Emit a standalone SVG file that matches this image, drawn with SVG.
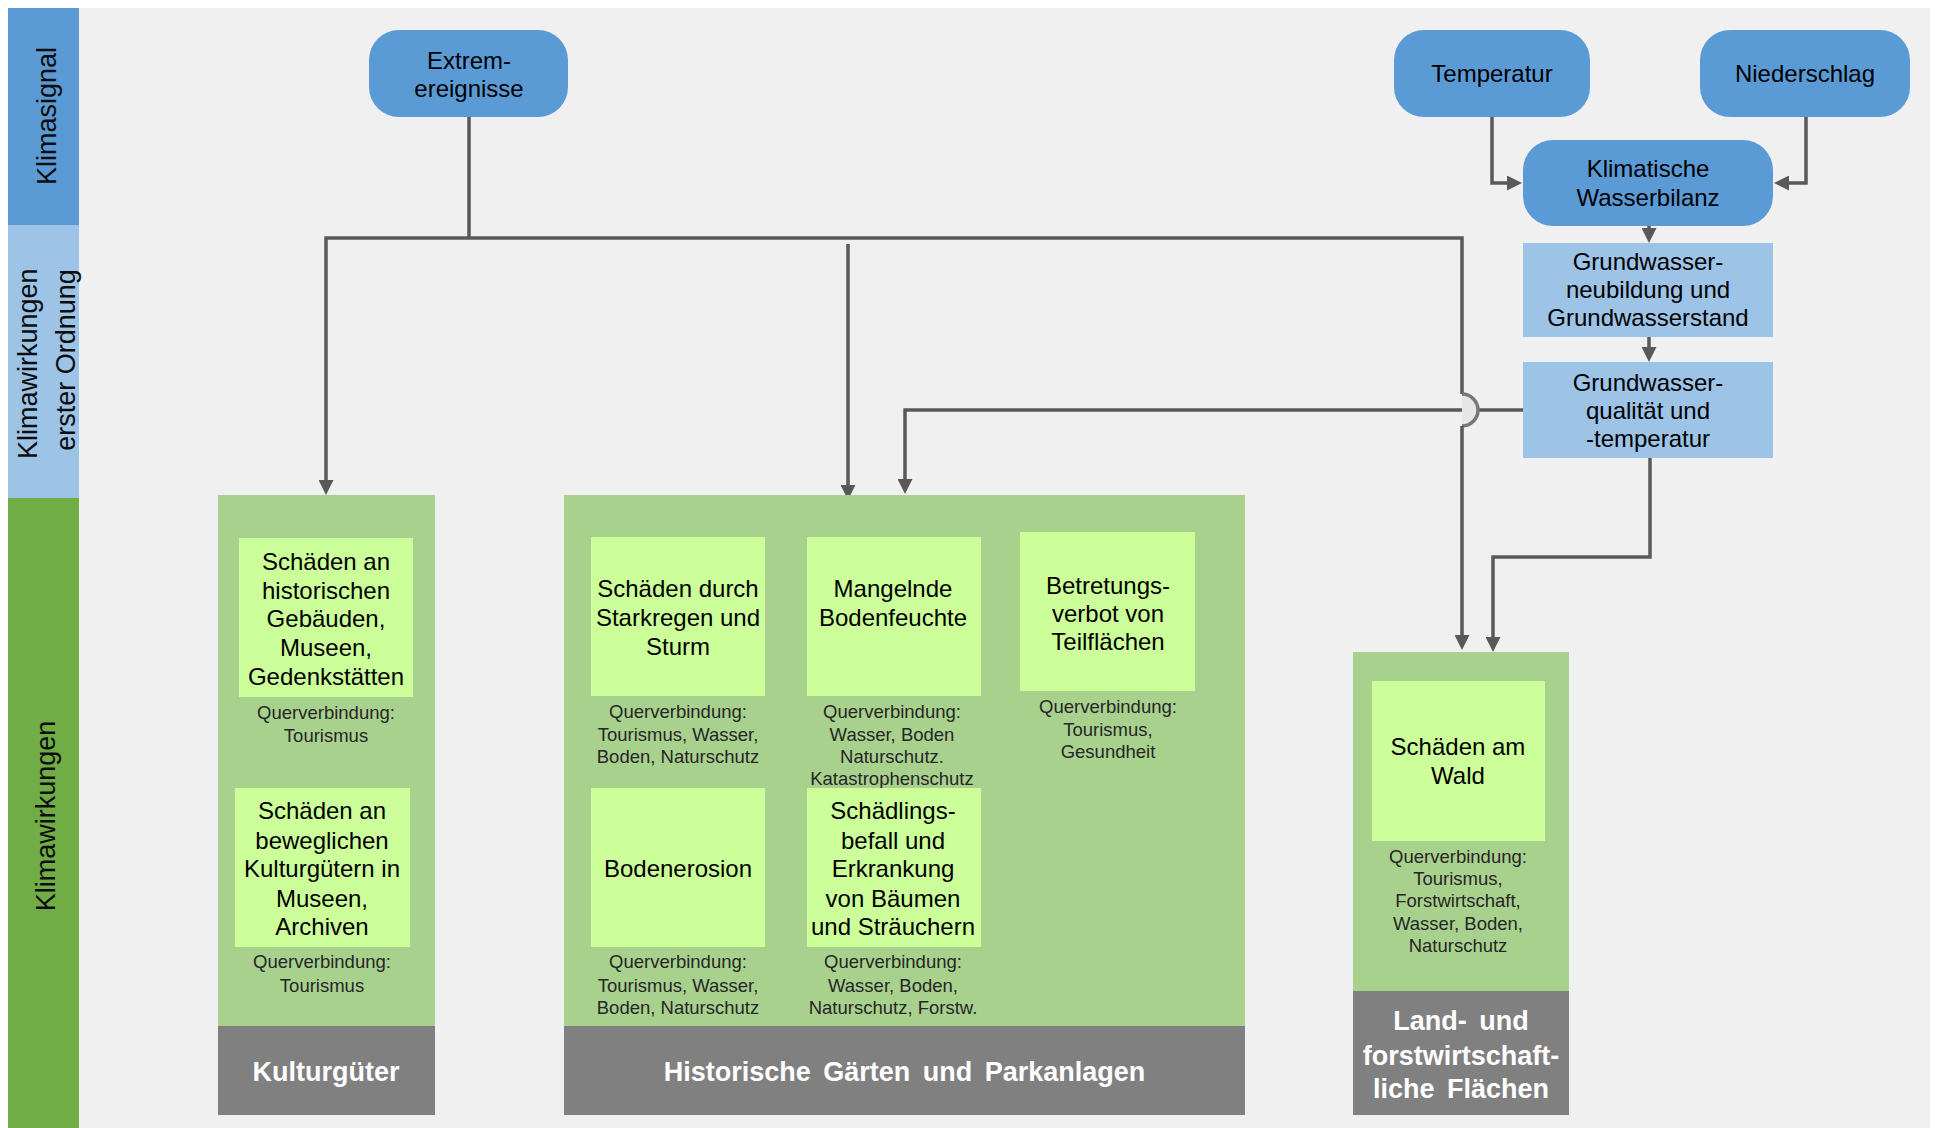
<svg xmlns="http://www.w3.org/2000/svg" width="1936" height="1128" viewBox="0 0 1936 1128">
  <defs>
    <marker id="arrow" markerUnits="userSpaceOnUse" markerWidth="15" markerHeight="15" viewBox="0 0 15 15" refX="3" refY="7.5" orient="auto">
      <path d="M0,0 L15,7.5 L0,15 Z" fill="#595959"/>
    </marker>
    <style>
      text { font-family: "Liberation Sans", Arial, sans-serif; }
      .band-label { font-size: 27px; fill: #0d0d0d; text-anchor: middle; }
      .signal { fill: #5b9bd5; }
      .first { fill: #9dc3e6; }
      .node-text { font-size: 24px; fill: #000; text-anchor: middle; }
      .container { fill: #a9d18e; }
      .footer { fill: #808080; }
      .footer-text { font-size: 27px; font-weight: bold; fill: #fff; text-anchor: middle; word-spacing: 5px; }
      .impact { fill: #ccff99; }
      .cross { font-size: 18.5px; fill: #262626; text-anchor: middle; }
      .conn { fill: none; stroke: #595959; stroke-width: 3.5; }
      .conn-arrow { fill: none; stroke: #595959; stroke-width: 3.5; marker-end: url(#arrow); }
    </style>
  </defs>

  <!-- canvas -->
  <rect x="8" y="8" width="1922" height="1120" fill="#f0f0f0"/>

  <!-- row bands -->
  <g id="band-klimasignal">
    <rect x="8" y="8" width="71" height="217" fill="#5b9bd5"/>
    <text class="band-label" transform="translate(56,116) rotate(-90)">Klimasignal</text>
  </g>
  <g id="band-erste-ordnung">
    <rect x="8" y="225" width="71" height="273" fill="#9dc3e6"/>
    <text class="band-label" transform="translate(37,360) rotate(-90)">
      <tspan x="0" y="0">Klimawirkungen</tspan>
      <tspan x="0" y="38">erster Ordnung</tspan>
    </text>
  </g>
  <g id="band-klimawirkungen">
    <rect x="8" y="498" width="71" height="630" fill="#70ad47"/>
    <text class="band-label" transform="translate(55,816) rotate(-90)">Klimawirkungen</text>
  </g>

  <!-- connectors -->
  <g id="connectors">
    <path class="conn" d="M469,117 V238"/>
    <path class="conn-arrow" d="M469,238 H326 V483"/>
    <path class="conn" d="M469,238 H1462 V394"/>
    <path class="conn-arrow" d="M848,244 V488"/>
    <path class="conn-arrow" d="M1523,410 H905 V482"/>
    <path d="M1462,394 A16,16 0 0 1 1462,426" fill="#e6e6e6" stroke="#777" stroke-width="3.5"/>
    <path class="conn-arrow" d="M1462,426 V638"/>
    <path class="conn-arrow" d="M1650,458 V557 H1493 V640"/>
    <path class="conn-arrow" d="M1492,117 V183 H1510"/>
    <path class="conn-arrow" d="M1806,117 V183 H1786"/>
    <path class="conn-arrow" d="M1649,226 V231"/>
    <path class="conn-arrow" d="M1649,337 V350"/>
  </g>

  <!-- climate signals -->
  <g id="extremereignisse">
    <rect class="signal" x="369" y="30" width="199" height="87" rx="30"/>
    <text class="node-text"><tspan x="469" y="69">Extrem-</tspan><tspan x="469" y="97">ereignisse</tspan></text>
  </g>
  <g id="temperatur">
    <rect class="signal" x="1394" y="30" width="196" height="87" rx="30"/>
    <text class="node-text" x="1492" y="82">Temperatur</text>
  </g>
  <g id="niederschlag">
    <rect class="signal" x="1700" y="30" width="210" height="87" rx="30"/>
    <text class="node-text" x="1805" y="82">Niederschlag</text>
  </g>
  <g id="wasserbilanz">
    <rect class="signal" x="1523" y="140" width="250" height="86" rx="30"/>
    <text class="node-text"><tspan x="1648" y="177">Klimatische</tspan><tspan x="1648" y="206">Wasserbilanz</tspan></text>
  </g>

  <!-- first-order impacts -->
  <g id="grundwasserneubildung">
    <rect class="first" x="1523" y="243" width="250" height="94"/>
    <text class="node-text"><tspan x="1648" y="270">Grundwasser-</tspan><tspan x="1648" y="298">neubildung und</tspan><tspan x="1648" y="326">Grundwasserstand</tspan></text>
  </g>
  <g id="grundwasserqualitaet">
    <rect class="first" x="1523" y="362" width="250" height="96"/>
    <text class="node-text"><tspan x="1648" y="391">Grundwasser-</tspan><tspan x="1648" y="419">qualität und</tspan><tspan x="1648" y="447">-temperatur</tspan></text>
  </g>

  <!-- sector: Kulturgüter -->
  <g id="kulturgueter">
    <rect class="container" x="218" y="495" width="217" height="531"/>
    <rect class="footer" x="218" y="1026" width="217" height="89"/>
    <text class="footer-text" x="326" y="1081">Kulturgüter</text>
  </g>
  <g id="schaeden-gebaeude">
    <rect class="impact" x="239" y="538" width="174" height="159"/>
    <text class="node-text"><tspan x="326" y="570">Schäden an</tspan><tspan x="326" y="598.7">historischen</tspan><tspan x="326" y="627.4">Gebäuden,</tspan><tspan x="326" y="656.1">Museen,</tspan><tspan x="326" y="684.8">Gedenkstätten</tspan></text>
    <text class="cross"><tspan x="326" y="719">Querverbindung:</tspan><tspan x="326" y="742">Tourismus</tspan></text>
  </g>
  <g id="schaeden-kulturgueter">
    <rect class="impact" x="235" y="788" width="175" height="159"/>
    <text class="node-text"><tspan x="322" y="819">Schäden an</tspan><tspan x="322" y="849">beweglichen</tspan><tspan x="322" y="877">Kulturgütern in</tspan><tspan x="322" y="907">Museen,</tspan><tspan x="322" y="935">Archiven</tspan></text>
    <text class="cross"><tspan x="322" y="968">Querverbindung:</tspan><tspan x="322" y="991.5">Tourismus</tspan></text>
  </g>

  <!-- sector: Historische Gärten und Parkanlagen -->
  <g id="gaerten">
    <rect class="container" x="564" y="495" width="681" height="531"/>
    <rect class="footer" x="564" y="1026" width="681" height="89"/>
    <text class="footer-text" x="904.5" y="1081">Historische Gärten und Parkanlagen</text>
  </g>
  <g id="starkregen">
    <rect class="impact" x="591" y="537" width="174" height="159"/>
    <text class="node-text"><tspan x="678" y="597">Schäden durch</tspan><tspan x="678" y="626">Starkregen und</tspan><tspan x="678" y="655">Sturm</tspan></text>
    <text class="cross"><tspan x="678" y="718">Querverbindung:</tspan><tspan x="678" y="741">Tourismus, Wasser,</tspan><tspan x="678" y="763">Boden, Naturschutz</tspan></text>
  </g>
  <g id="bodenerosion">
    <rect class="impact" x="591" y="788" width="174" height="159"/>
    <text class="node-text" x="678" y="877">Bodenerosion</text>
    <text class="cross"><tspan x="678" y="968">Querverbindung:</tspan><tspan x="678" y="991.5">Tourismus, Wasser,</tspan><tspan x="678" y="1013.5">Boden, Naturschutz</tspan></text>
  </g>
  <g id="bodenfeuchte">
    <rect class="impact" x="807" y="537" width="174" height="159"/>
    <text class="node-text"><tspan x="893" y="597">Mangelnde</tspan><tspan x="893" y="626">Bodenfeuchte</tspan></text>
    <text class="cross"><tspan x="892" y="718">Querverbindung:</tspan><tspan x="892" y="741">Wasser, Boden</tspan><tspan x="892" y="763">Naturschutz.</tspan><tspan x="892" y="785">Katastrophenschutz</tspan></text>
  </g>
  <g id="schaedlingsbefall">
    <rect class="impact" x="807" y="788" width="174" height="159"/>
    <text class="node-text"><tspan x="893" y="819">Schädlings-</tspan><tspan x="893" y="849">befall und</tspan><tspan x="893" y="877">Erkrankung</tspan><tspan x="893" y="907">von Bäumen</tspan><tspan x="893" y="935">und Sträuchern</tspan></text>
    <text class="cross"><tspan x="893" y="968">Querverbindung:</tspan><tspan x="893" y="991.5">Wasser, Boden,</tspan><tspan x="893" y="1013.5">Naturschutz, Forstw.</tspan></text>
  </g>
  <g id="betretungsverbot">
    <rect class="impact" x="1020" y="532" width="175" height="159"/>
    <text class="node-text"><tspan x="1108" y="594">Betretungs-</tspan><tspan x="1108" y="622">verbot von</tspan><tspan x="1108" y="650">Teilflächen</tspan></text>
    <text class="cross"><tspan x="1108" y="713">Querverbindung:</tspan><tspan x="1108" y="736">Tourismus,</tspan><tspan x="1108" y="758">Gesundheit</tspan></text>
  </g>

  <!-- sector: Land- und forstwirtschaftliche Flächen -->
  <g id="land-forst">
    <rect class="container" x="1353" y="652" width="216" height="339"/>
    <rect class="footer" x="1353" y="991" width="216" height="124"/>
    <text class="footer-text"><tspan x="1461" y="1029.5">Land- und</tspan><tspan x="1461" y="1064.5">forstwirtschaft-</tspan><tspan x="1461" y="1098">liche Flächen</tspan></text>
  </g>
  <g id="schaeden-wald">
    <rect class="impact" x="1372" y="681" width="173" height="160"/>
    <text class="node-text"><tspan x="1458" y="755">Schäden am</tspan><tspan x="1458" y="784">Wald</tspan></text>
    <text class="cross"><tspan x="1458" y="862.5">Querverbindung:</tspan><tspan x="1458" y="885.3">Tourismus,</tspan><tspan x="1458" y="907.2">Forstwirtschaft,</tspan><tspan x="1458" y="930">Wasser, Boden,</tspan><tspan x="1458" y="952">Naturschutz</tspan></text>
  </g>
</svg>
